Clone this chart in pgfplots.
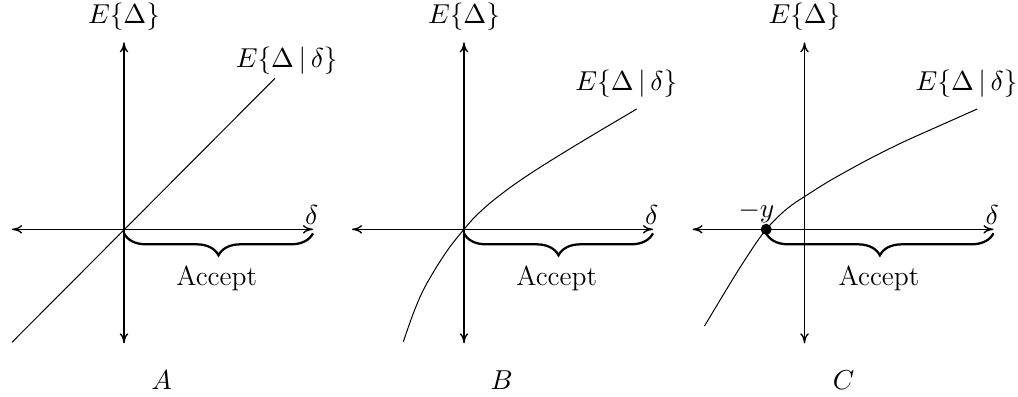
\documentclass[border=0pt]{standalone}
\usepackage{pgfplots}
\pgfplotsset{compat=1.18}
\usetikzlibrary{arrows.meta,decorations.pathreplacing}

% one data unit = one pixel of the reference
\pgfplotsset{
  panel/.style={
    x=0.4pt, y=0.4pt,
    anchor=origin,
    axis lines=middle,
    axis line style={<->, line width=0.55pt},
    xmin=-112, xmax=189, ymin=-114, ymax=187,
    xtick=\empty, ytick=\empty,
    clip=false,
    cycle list={{black, line width=0.55pt, no markers}},
  },
}
\newcommand{\lbl}{\fontsize{11}{13}\selectfont}
\tikzset{
  >={To[length=4pt,width=3.4pt]},
  accept/.style={decorate, decoration={brace, mirror, amplitude=8.8pt}, line width=0.9pt},
}

\begin{document}
\begin{tikzpicture}[x=0.4pt, y=0.4pt, every node/.style={font=\lbl}]
\useasboundingbox (0,0) rectangle (1018,396);

% ---- A ----
\begin{axis}[panel, at={(124,166.7)}]
\addplot coordinates {(-112,-113) (151,151)};
\draw[accept] (axis cs:0,-4) -- (axis cs:189,-4);
\node at (axis cs:92.7,-49.3) {Accept};
\node at (axis cs:0,212.6) {$E\{\Delta\}$};
\node at (axis cs:162.7,169) {$E\{\Delta\,|\,\delta\}$};
\node at (axis cs:187.7,14) {$\delta$};
\node at (axis cs:37.7,-151) {$A$};
\end{axis}

% ---- B ----
\begin{axis}[panel, at={(464,166.7)}]
\addplot+[smooth, tension=0.5] coordinates {
  (-60.7,-112.4) (-50.7,-84) (-40.7,-60.7) (-27.3,-37.4) (-14,-17.4)
  (0,0) (10,11.5) (20,21) (30,29.5) (45,41) (60,51.5) (80,64.5)
  (110,83) (140,101) (172.7,120.3)
};
\draw[accept] (axis cs:0,-4) -- (axis cs:189,-4);
\node at (axis cs:92.7,-49.3) {Accept};
\node at (axis cs:0,212.6) {$E\{\Delta\}$};
\node at (axis cs:162.3,146) {$E\{\Delta\,|\,\delta\}$};
\node at (axis cs:187.7,14) {$\delta$};
\node at (axis cs:37.7,-151) {$B$};
\end{axis}

% ---- C ----
\begin{axis}[panel, at={(804.5,166.7)}]
\addplot+[smooth, tension=0.5] coordinates {
  (-100,-96.7) (-81.7,-66.2) (-65,-39) (-48.3,-13.5) (-38.3,0)
  (-30,9) (-20,18.5) (-10,26.2) (0,32.7) (15,42.3) (30,51.3)
  (62.7,69.3) (96,86) (129.3,101) (172.7,120.3)
};
\addplot[black, only marks, mark=*, mark size=2pt] coordinates {(-38.3,0)};
\draw[accept] (axis cs:-38.3,-4) -- (axis cs:189,-4);
\node at (axis cs:74.5,-49.3) {Accept};
\node at (axis cs:0,212.6) {$E\{\Delta\}$};
\node at (axis cs:162,146) {$E\{\Delta\,|\,\delta\}$};
\node at (axis cs:187.7,14) {$\delta$};
\node at (axis cs:-48,17.6) {$-y$};
\node at (axis cs:39,-151) {$C$};
\end{axis}
\end{tikzpicture}
\end{document}
